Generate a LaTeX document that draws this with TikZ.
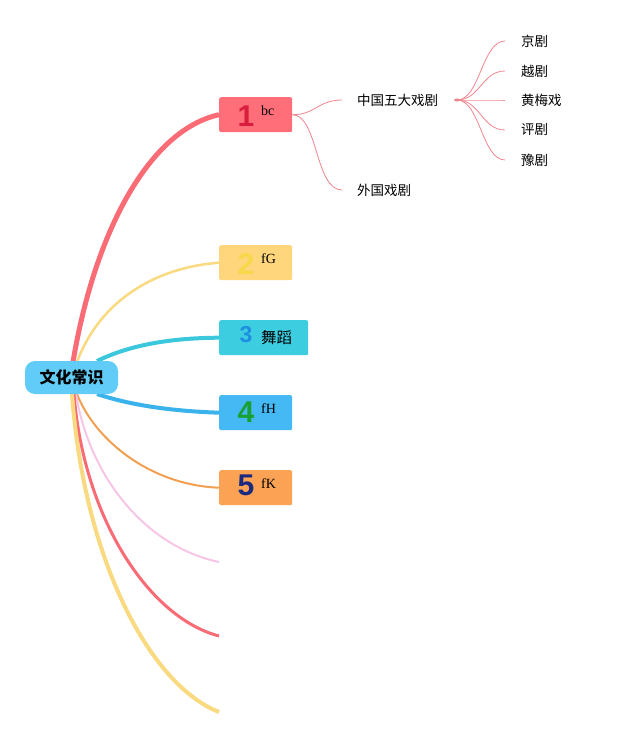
\documentclass[tikz,border=0pt]{standalone}
\usepackage{fontspec}
\setmainfont{Liberation Serif}
\newfontfamily\cjk{Noto Sans CJK SC}
\newfontfamily\numf{Liberation Sans}
\definecolor{cRoot}{HTML}{62CCF8}
\definecolor{cB1}{HTML}{FF6E79}
\definecolor{cB2}{HTML}{FFD67C}
\definecolor{cB3}{HTML}{3CCEE0}
\definecolor{cB4}{HTML}{44B9F4}
\definecolor{cB5}{HTML}{FBA254}
\definecolor{cN1}{HTML}{D81E3C}
\definecolor{cN2}{HTML}{F7D84A}
\definecolor{cN3}{HTML}{1E8FE0}
\definecolor{cN4}{HTML}{1AA032}
\definecolor{cN5}{HTML}{1B2A80}
\definecolor{lRed}{HTML}{F96B75}
\definecolor{lYel}{HTML}{F9DA80}
\definecolor{lCyan}{HTML}{3CC8DC}
\definecolor{lBlue}{HTML}{3AB2EC}
\definecolor{lOr}{HTML}{F0A050}
\definecolor{lPink}{HTML}{F7C6E6}
\definecolor{lSub}{HTML}{F0868F}
\pgfdeclarelayer{background}
\pgfsetlayers{background,main}
\tikzset{
  rootbox/.style={fill=cRoot, rounded corners=10pt, minimum width=93pt, minimum height=33pt, inner sep=0pt, font=\cjk\bfseries\fontsize{16}{18}\selectfont},
  topicbox/.style={rounded corners=2pt, minimum width=73pt, minimum height=35pt, inner sep=0pt, anchor=north west},
  numtxt/.style={font=\numf\bfseries\fontsize{30}{32}\selectfont, inner sep=0pt, anchor=base},
  lbltxt/.style={font=\fontsize{14}{16}\selectfont, inner sep=0pt, anchor=base west},
  subtxt/.style={font=\cjk\fontsize{13.5}{16}\selectfont, inner sep=0pt, anchor=west},
  subline/.style={draw=lSub, line width=0.8pt},
}
\begin{document}
\begin{tikzpicture}[x=1pt,y=-1pt]
\useasboundingbox (0,0) rectangle (623,738);

% root
\node[rootbox] (root) at (71.5,377.5) {文化常识};

% boxes
\node[topicbox, fill=cB1] (b1) at (219,97) {};
\node[topicbox, fill=cB2] (b2) at (219,245) {};
\node[topicbox, fill=cB3, minimum width=89pt] (b3) at (219,320) {};
\node[topicbox, fill=cB4] (b4) at (219,395) {};
\node[topicbox, fill=cB5] (b5) at (219,470) {};

% connector anchors
\coordinate (r1) at (73,362);
\coordinate (r2) at (77,362);
\coordinate (r3) at (97,361);
\coordinate (r4) at (97,394);
\coordinate (r5) at (77,394);
\coordinate (r6) at (76,394);
\coordinate (r7) at (74,394);
\coordinate (r8) at (72,394);
\coordinate (e6) at (219,562);
\coordinate (e7) at (219,636);
\coordinate (e8) at (219,712);

\begin{pgfonlayer}{background}
\fill[white] (0,0) rectangle (623,738);
\draw[lRed, line width=5pt] (r1) .. controls (95,230) and (150,130) .. (b1.west);
\draw[lYel, line width=2.5pt] (r2) .. controls (98,305) and (150,268) .. (b2.west);
\draw[lCyan, line width=4pt] (r3) .. controls (130,345) and (170,338) .. (b3.west);
\draw[lBlue, line width=4pt] (r4) .. controls (130,405) and (170,411) .. (b4.west);
\draw[lOr, line width=2pt] (r5) .. controls (95,440) and (150,485) .. (b5.west);
\draw[lPink, line width=2pt] (r6) .. controls (88,470) and (140,545) .. (e6);
\draw[lRed, line width=3pt] (r7) .. controls (84,520) and (150,618) .. (e7);
\draw[lYel, line width=4pt] (r8) .. controls (84,560) and (150,685) .. (e8);
\end{pgfonlayer}

% numbers and labels
\node[numtxt, text=cN1] (n1) at (246,127) {1};
\node[lbltxt] (l1) at (261,116) {bc};
\node[numtxt, text=cN2] (n2) at (246,274) {2};
\node[lbltxt] (l2) at (261,263) {fG};
\node[numtxt, text=cN3, font=\numf\bfseries\fontsize{23}{25}\selectfont] (n3) at (246,342) {3};
\node[subtxt, font=\cjk\fontsize{15.5}{18}\selectfont] (l3) at (261,337.5) {舞蹈};
\node[numtxt, text=cN4] (n4) at (246,422) {4};
\node[lbltxt] (l4) at (261,413) {fH};
\node[numtxt, text=cN5] (n5) at (246,495) {5};
\node[lbltxt] (l5) at (261,488) {fK};

% sub topics
\node[subtxt] (s1) at (357,100) {中国五大戏剧};
\node[subtxt] (s2) at (357,190) {外国戏剧};
\draw[subline] (b1.east) .. controls (315,115) and (318,100) .. ([xshift=-15pt]s1.west);
\draw[subline] (b1.east) .. controls (318,115) and (315,190) .. ([xshift=-15pt]s2.west);

\node[subtxt] (k1) at (521,41) {京剧};
\node[subtxt] (k2) at (521,71) {越剧};
\node[subtxt] (k3) at (521,100) {黄梅戏};
\node[subtxt] (k4) at (521,130) {评剧};
\node[subtxt] (k5) at (521,160) {豫剧};
\coordinate (f0) at (457,100);
\fill[lSub] (f0) ellipse (3pt and 1.5pt);
\foreach \k/\yy in {k1/41,k2/71,k3/100,k4/130,k5/160}{
  \draw[subline] (f0) .. controls (480,100) and (482,\yy) .. ([xshift=-16pt]\k.west);
}
\end{tikzpicture}
\end{document}
